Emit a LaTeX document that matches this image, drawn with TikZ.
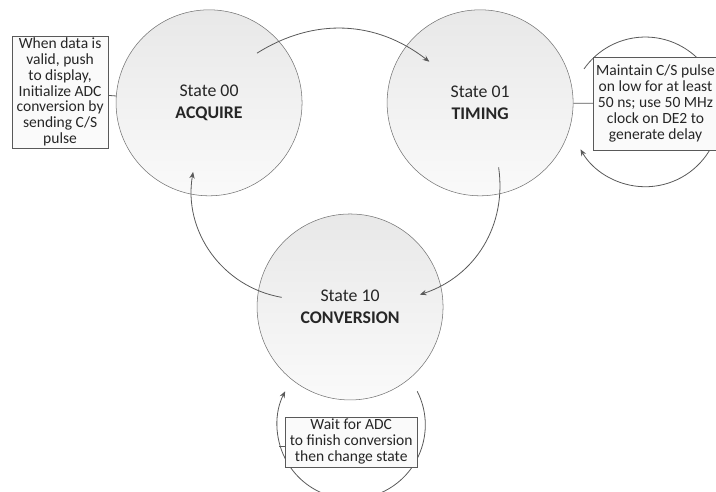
\documentclass[tikz,border=0pt]{standalone}
\usepackage{fontspec}
\setmainfont{Carlito}
\usepackage{tikz}
\usetikzlibrary{arrows.meta,calc}

\begin{document}
\begin{tikzpicture}[
    state/.style={circle, draw=black!55, top color=black!9, bottom color=black!2, minimum size=4.92cm, align=center, text=black!85, font=\fontsize{13.4}{16.5}\selectfont},
    note/.style={draw=black!65, fill=black!2, align=center, inner sep=1pt, text=black!85, font=\fontsize{11.7}{12}\selectfont},
    trans/.style={draw=black!65, line width=0.6pt, -{Stealth[length=5pt,width=4pt]}},
    link/.style={draw=black!65, line width=0.6pt}]
    \useasboundingbox (0,0) rectangle (18.94,12.99);

    \node[state] (acq) at (5.53, 10.27) {State 00\\\textbf{ACQUIRE}};
    \node[state] (tim) at (12.70, 10.27) {State 01\\\textbf{TIMING}};
    \node[state] (conv) at (9.26, 4.87) {State 10\\\textbf{CONVERSION}};

    \draw[trans] ($(acq)!0.74!(acq.46)$) to[bend left=35] ($(tim)!0.7!(tim.141)$);
    \draw[trans] ($(tim)!0.72!(tim.-74)$) to[bend left=40] ($(conv)!0.76!(conv.10)$);
    \draw[trans] ($(conv)!0.74!(conv.172)$) to[bend left=45] ($(acq)!0.76!(acq.-103)$);

    \coordinate (timloop) at (17.07, 10.03);
    \coordinate (convloop) at (9.29, 1.75);
    \draw[trans] (timloop) ++(145:1.98) arc[start angle=145, end angle=-150, radius=1.98];
    \draw[trans] (convloop) ++(27:1.96) arc[start angle=27, end angle=-207, radius=1.96];

    \node[note, minimum width=2.54cm, minimum height=2.96cm] (valid) at (1.59, 10.56) {When data is\\valid, push\\to display,\\Initialize ADC\\conversion by\\sending C/S\\pulse};
    \node[note, minimum width=3.28cm, minimum height=2.46cm] (delay) at (17.34, 10.25) {Maintain C/S pulse\\on low for at least\\50 ns; use 50 MHz\\clock on DE2 to\\generate delay};
    \node[note, minimum width=3.49cm, minimum height=1.32cm] (wait) at (9.29, 1.30) {Wait for ADC\\to finish conversion\\then change state};

    \coordinate (loopedge) at (7.39, 1.19);
    \draw[link] (valid) -- (acq);
    \draw[link] (tim) -- (delay);
    \draw[link] (loopedge) -- (loopedge -| wait.west);
\end{tikzpicture}
\end{document}
